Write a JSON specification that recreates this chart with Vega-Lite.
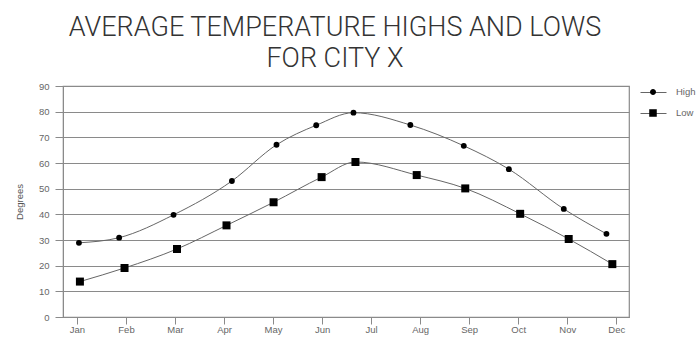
{
  "$schema": "https://vega.github.io/schema/vega-lite/v6.json",
  "autosize": {"type": "none"},
  "width": 566,
  "height": 231,
  "padding": {"left": 63, "top": 86, "right": 71, "bottom": 22},
  "background": "white",
  "title": {
    "text": ["AVERAGE TEMPERATURE HIGHS AND LOWS", "FOR CITY X"],
    "font": "Roboto",
    "fontSize": 27,
    "fontWeight": 300,
    "color": "#333333",
    "lineHeight": 31.5,
    "anchor": "middle",
    "dx": -11,
    "offset": 6
  },
  "config": {
    "view": {"stroke": "#8a8a8a", "strokeWidth": 1.2},
    "font": "Liberation Sans",
    "axis": {
      "labelFont": "Liberation Sans",
      "labelColor": "#666666",
      "labelFontSize": 9.5,
      "titleFont": "Liberation Sans",
      "titleColor": "#555555",
      "titleFontSize": 9.5,
      "titleFontWeight": "normal",
      "domainColor": "#8a8a8a",
      "tickColor": "#8a8a8a",
      "gridColor": "#8a8a8a",
      "gridWidth": 1.2
    }
  },
  "data": {
    "values": [
      {"series": "High", "month": "Jan", "pos": 1.04, "temp": 28.9},
      {"series": "High", "month": "Feb", "pos": 1.86, "temp": 30.9},
      {"series": "High", "month": "Mar", "pos": 2.97, "temp": 39.8},
      {"series": "High", "month": "Apr", "pos": 4.16, "temp": 53.0},
      {"series": "High", "month": "May", "pos": 5.07, "temp": 67.1},
      {"series": "High", "month": "Jun", "pos": 5.88, "temp": 74.7},
      {"series": "High", "month": "Jul", "pos": 6.64, "temp": 79.6},
      {"series": "High", "month": "Aug", "pos": 7.8, "temp": 74.8},
      {"series": "High", "month": "Sep", "pos": 8.89, "temp": 66.7},
      {"series": "High", "month": "Oct", "pos": 9.81, "temp": 57.6},
      {"series": "High", "month": "Nov", "pos": 10.93, "temp": 42.1},
      {"series": "High", "month": "Dec", "pos": 11.8, "temp": 32.4},
      {"series": "Low", "month": "Jan", "pos": 1.06, "temp": 13.8},
      {"series": "Low", "month": "Feb", "pos": 1.97, "temp": 19.1},
      {"series": "Low", "month": "Mar", "pos": 3.04, "temp": 26.5},
      {"series": "Low", "month": "Apr", "pos": 4.05, "temp": 35.7},
      {"series": "Low", "month": "May", "pos": 5.01, "temp": 44.7},
      {"series": "Low", "month": "Jun", "pos": 5.99, "temp": 54.5},
      {"series": "Low", "month": "Jul", "pos": 6.68, "temp": 60.4},
      {"series": "Low", "month": "Aug", "pos": 7.93, "temp": 55.3},
      {"series": "Low", "month": "Sep", "pos": 8.92, "temp": 50.1},
      {"series": "Low", "month": "Oct", "pos": 10.04, "temp": 40.2},
      {"series": "Low", "month": "Nov", "pos": 11.03, "temp": 30.4},
      {"series": "Low", "month": "Dec", "pos": 11.92, "temp": 20.6}
    ]
  },
  "encoding": {
    "x": {
      "field": "pos",
      "type": "quantitative",
      "scale": {"domain": [0.715, 12.26], "nice": false, "zero": false},
      "axis": {
        "title": null,
        "grid": false,
        "values": [1, 2, 3, 4, 5, 6, 7, 8, 9, 10, 11, 12],
        "labelExpr": "['Jan','Feb','Mar','Apr','May','Jun','Jul','Aug','Sep','Oct','Nov','Dec'][datum.value - 1]",
        "tickSize": 7,
        "labelPadding": 0,
        "labelFlush": false
      }
    },
    "y": {
      "field": "temp",
      "type": "quantitative",
      "scale": {"domain": [0, 90], "nice": false},
      "axis": {
        "title": "Degrees",
        "values": [0, 10, 20, 30, 40, 50, 60, 70, 80, 90],
        "tickSize": 8,
        "labelPadding": 6,
        "titlePadding": 14
      }
    }
  },
  "layer": [
    {
      "mark": {"type": "line", "interpolate": "monotone", "strokeWidth": 1},
      "encoding": {
        "stroke": {
          "field": "series",
          "type": "nominal",
          "scale": {"domain": ["High", "Low"], "range": ["#666666", "#666666"]},
          "legend": {
            "title": null,
            "orient": "none",
            "legendX": 577,
            "legendY": -7,
            "padding": 0,
            "symbolType": "stroke",
            "symbolSize": 676,
            "symbolStrokeWidth": 1,
            "labelOffset": 10,
            "labelFont": "Liberation Sans",
            "labelFontSize": 9.5,
            "labelColor": "#666666",
            "labelOpacity": 0,
            "rowPadding": 3
          }
        }
      }
    },
    {
      "mark": {"type": "point", "filled": true, "color": "black", "opacity": 1},
      "encoding": {
        "shape": {
          "field": "series",
          "type": "nominal",
          "scale": {"domain": ["High", "Low"], "range": ["circle", "square"]},
          "legend": null
        },
        "size": {
          "field": "series",
          "type": "nominal",
          "scale": {"domain": ["High", "Low"], "range": [34, 64]},
          "legend": null
        }
      }
    },
    {
      "transform": [{"filter": "false"}],
      "mark": {"type": "point", "filled": true, "fill": "black", "opacity": 1},
      "encoding": {
        "shape": {
          "field": "series",
          "type": "nominal",
          "scale": {
            "domain": ["High", "Low"],
            "range": [
              "M-0.23,0A0.23,0.23,0,1,1,0.23,0A0.23,0.23,0,1,1,-0.23,0Z",
              "M-0.29,-0.29L0.29,-0.29L0.29,0.29L-0.29,0.29Z"
            ]
          },
          "legend": {
            "title": null,
            "orient": "none",
            "legendX": 577,
            "legendY": -7,
            "padding": 0,
            "symbolSize": 676,
            "symbolOpacity": 1,
            "symbolFillColor": "black",
            "symbolStrokeWidth": 0,
            "labelOffset": 10,
            "labelFont": "Liberation Sans",
            "labelFontSize": 9.5,
            "labelColor": "#666666",
            "rowPadding": 3
          }
        }
      }
    }
  ],
  "resolve": {"scale": {"shape": "independent", "size": "independent"}}
}
